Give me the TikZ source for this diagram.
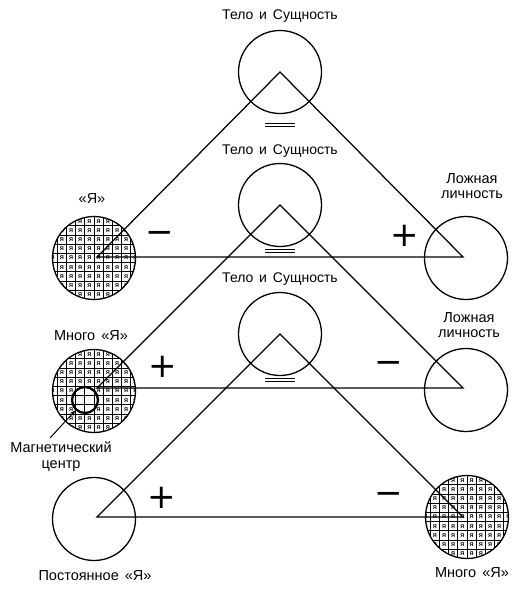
\documentclass[tikz,border=0pt]{standalone}
\usepackage{fontspec}
\setmainfont[WordSpace=1.5]{Liberation Sans}
\newfontfamily\symfont{DejaVu Sans}
\usetikzlibrary{arrows.meta}
\newcommand\myhatch[6]{% cx, cy, name, exclude x, exclude y, exclude r
  \begin{scope}
    \clip (#1,#2) circle (41.5);
    \foreach \k in {-5,...,5}{
      \draw[gridln] (#1+9.2*\k,#2-47) -- (#1+9.2*\k,#2+47);
      \draw[gridln] (#1-47,#2+9.2*\k+4.6) -- (#1+47,#2+9.2*\k+4.6);
    }
    \foreach \i in {-5,...,4}{\foreach \j in {-5,...,5}{
      \pgfmathsetmacro\px{#1+9.2*\i+4.6}
      \pgfmathsetmacro\py{#2+9.2*\j}
      \pgfmathsetmacro\dd{veclen(\px-#4,\py-#5)}
      \ifdim\dd pt>#6pt \node[ya] (#3-\i-\j) at (\px,\py) {Я};\fi
    }}
  \end{scope}}
\begin{document}
\begin{tikzpicture}[x=1pt,y=-1pt,
  lbl/.style={font=\fontsize{14.5}{16}\selectfont, anchor=base, inner sep=0},
  tlbl/.style={lbl, font=\fontsize{14}{16}\selectfont},
  sgn/.style={font=\symfont\fontsize{34}{34}\selectfont, inner sep=0},
  ring/.style={circle, draw, line width=1.3pt, minimum size=83pt, inner sep=0},
  tri/.style={line width=1.25pt, line join=miter},
  gridln/.style={line width=0.85pt},
  ya/.style={font=\bfseries\fontsize{5.5}{5.5}\selectfont, inner sep=0},
  eqs/.style={line width=0.9pt}]
\useasboundingbox (0,0) rectangle (523,600);

% hatched circles
\myhatch{94}{258}{ha}{0}{0}{0}
\myhatch{94}{391}{hb}{85}{400}{16}
\myhatch{467}{517}{hc}{0}{0}{0}

% triangle vertices
\coordinate (A1) at (280,72);  \coordinate (L1) at (97,257); \coordinate (R1) at (463,257);
\coordinate (A2) at (280,205); \coordinate (L2) at (97,388); \coordinate (R2) at (463,388);
\coordinate (A3) at (280,334); \coordinate (L3) at (97,517); \coordinate (R3) at (463,517);

\draw[tri] (A1) -- (L1) -- (R1) -- cycle;
\draw[tri] (A2) -- (L2) -- (R2) -- cycle;
\draw[tri] (A3) -- (L3) -- (R3) -- cycle;

% circles
\node[ring] (t1) at (280,72) {};
\node[ring] (t2) at (280,205) {};
\node[ring] (t3) at (280,334) {};
\node[ring] (ya1) at (94,258) {};
\node[ring] (ya2) at (94,391) {};
\node[ring] (ya3) at (94,519) {};
\node[ring] (f1) at (466,258) {};
\node[ring] (f2) at (466,390) {};
\node[ring] (m3) at (467,517) {};

% magnetic centre
\node[circle, draw, line width=2.3pt, minimum size=26pt, inner sep=0] (mc) at (85,400) {};
\coordinate (mcarrow) at (50,438);
\draw[line width=1pt, -{Stealth[length=6pt,width=4.5pt]}] (mcarrow) -- (mc);

% equal signs
\foreach \y [count=\n] in {125,251,380}{
  \coordinate (eq\n) at (280,\y);
  \draw[eqs] ([xshift=-15pt,yshift=-1.8pt]eq\n) -- ([xshift=15pt,yshift=-1.8pt]eq\n);
  \draw[eqs] ([xshift=-15pt,yshift=1.8pt]eq\n) -- ([xshift=15pt,yshift=1.8pt]eq\n);
}

% labels
\node[tlbl] (lt1) at (280,19) {Тело и Сущность};
\node[tlbl] (lt2) at (280,154) {Тело и Сущность};
\node[tlbl] (lt3) at (280,282) {Тело и Сущность};
\node[lbl] (lf1a) at (472,183) {Ложная};
\node[lbl] (lf1b) at (472,198) {личность};
\node[lbl] (lf2a) at (469,322) {Ложная};
\node[lbl] (lf2b) at (469,337) {личность};
\node[lbl] (lya1) at (92,203) {«Я»};
\node[lbl] (lya2) at (91,340) {Много «Я»};
\node[lbl] (lmc1) at (61,452) {Магнетический};
\node[lbl] (lmc2) at (61,468) {центр};
\node[lbl] (lya3) at (95,580) {Постоянное «Я»};
\node[lbl] (lm3) at (472,577) {Много «Я»};

% signs
\node[sgn] (s1) at (160,237) {−};
\node[sgn] (s2) at (405,236) {+};
\node[sgn] (s3) at (163,367) {+};
\node[sgn] (s4) at (389,367) {−};
\node[sgn] (s5) at (162,498) {+};
\node[sgn] (s6) at (389,498) {−};
\end{tikzpicture}
\end{document}
